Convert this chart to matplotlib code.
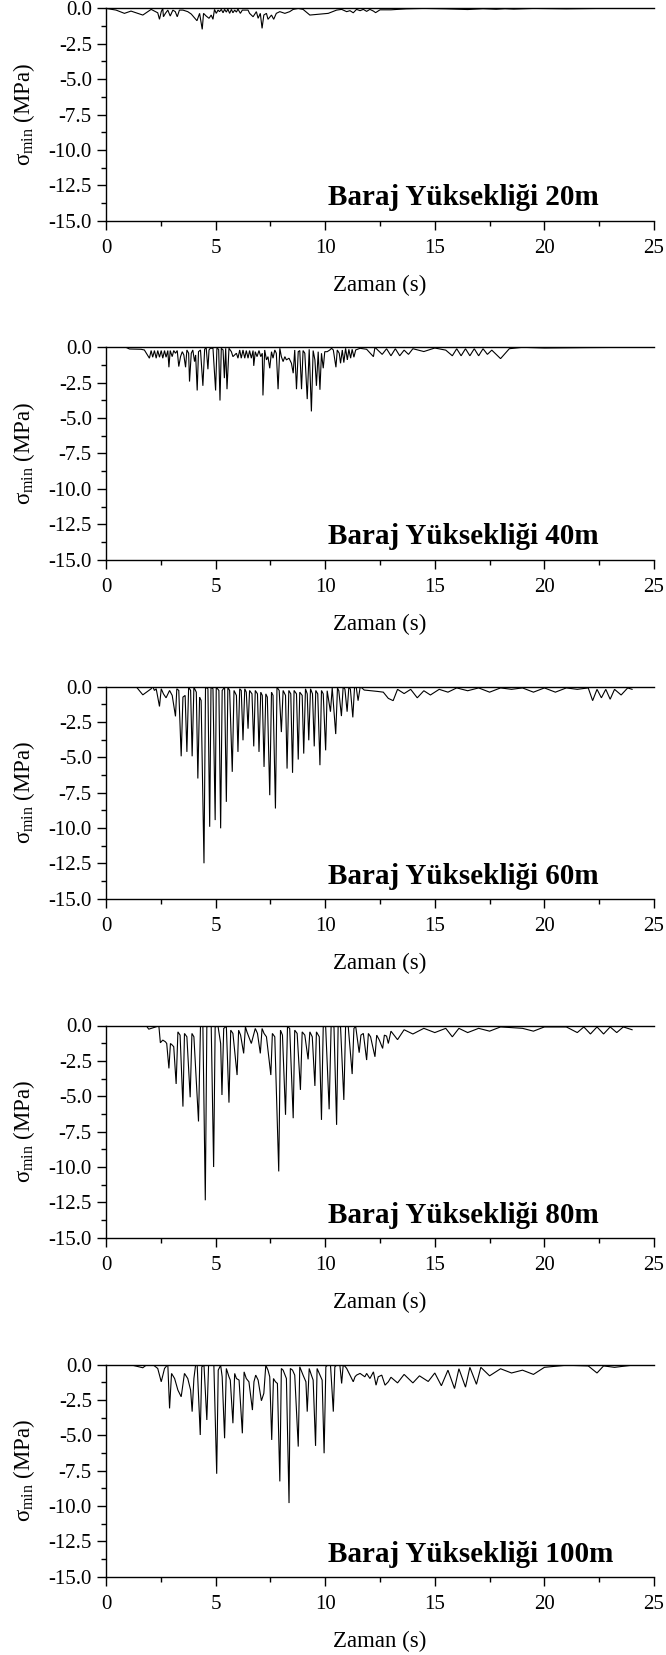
import numpy as np
import matplotlib
matplotlib.use("Agg")
import matplotlib.pyplot as plt
from matplotlib.ticker import MultipleLocator, FormatStrFormatter

plt.rcParams["font.family"] = ["Liberation Serif", "DejaVu Serif"]
plt.rcParams["mathtext.fontset"] = "custom"
plt.rcParams["mathtext.rm"] = "Liberation Serif"
plt.rcParams["mathtext.it"] = "Liberation Serif:italic"
plt.rcParams["axes.unicode_minus"] = False

# Dam heights shown in each panel
heights = ["20m", "40m", "60m", "80m", "100m"]

# Minimum principal stress histories: (time [s], sigma_min [MPa])
h20 = [
    (0.0, 0.0), (0.46, -0.12), (0.84, -0.35), (1.14, -0.19), (1.68, -0.47), (2.06, -0.07),
    (2.36, -0.31), (2.44, -0.77), (2.52, -0.23), (2.59, 0.0), (2.62, -0.59), (2.71, -0.35),
    (2.82, -0.12), (2.93, -0.54), (3.05, -0.12), (3.16, -0.23), (3.25, -0.59), (3.35, -0.12),
    (3.51, -0.12), (3.73, -0.23), (3.89, -0.40), (4.15, -0.87), (4.27, -0.35), (4.39, -1.48),
    (4.45, -0.35), (4.57, -0.54), (4.70, -0.70), (4.80, -0.47), (4.88, -0.77), (4.95, -0.07),
    (5.03, -0.35), (5.11, -0.12), (5.18, -0.23), (5.26, -0.07), (5.34, -0.31), (5.41, -0.07),
    (5.49, -0.26), (5.56, -0.05), (5.64, -0.35), (5.72, -0.07), (5.79, -0.31), (5.87, -0.12),
    (5.95, -0.26), (6.02, -0.05), (6.13, -0.35), (6.22, -0.12), (6.48, -0.12), (6.55, -0.35),
    (6.71, -0.59), (6.86, -0.23), (6.94, -0.70), (7.04, -0.35), (7.12, -1.41), (7.20, -0.47),
    (7.32, -0.35), (7.39, -0.77), (7.55, -0.47), (7.65, -0.77), (7.77, -0.35), (7.93, -0.23),
    (8.16, -0.35), (8.38, -0.23), (8.54, -0.07), (8.77, 0.0), (8.99, -0.07), (9.30, -0.47),
    (10.14, -0.35), (10.52, -0.12), (10.75, -0.07), (10.98, -0.23), (11.13, -0.16),
    (11.28, -0.31), (11.43, -0.07), (11.59, -0.16), (11.74, -0.07), (11.89, -0.21),
    (12.04, -0.07), (12.20, -0.19), (12.30, -0.30), (12.50, -0.10), (13.0, -0.10),
    (13.7, -0.03), (14.5, 0.0), (15.5, -0.03), (16.5, -0.08), (17.2, -0.02), (17.8, -0.06),
    (18.2, -0.02), (18.6, -0.05), (19.5, 0.0), (21.0, -0.03), (22.5, 0.0), (24.0, 0.0),
]

h40 = [
    (0.0, 0.0), (0.91, 0.0), (1.07, -0.12), (1.60, -0.14), (1.75, -0.19), (1.98, -0.77),
    (2.06, -0.23), (2.13, -0.70), (2.21, -0.23), (2.29, -0.77), (2.36, -0.23), (2.44, -0.70),
    (2.52, -0.23), (2.59, -0.77), (2.67, -0.23), (2.74, -0.70), (2.82, -0.23), (2.87, -1.41),
    (2.93, -0.23), (3.02, -0.66), (3.09, -0.23), (3.17, -0.42), (3.25, -0.23), (3.32, -1.36),
    (3.40, -0.66), (3.48, -0.31), (3.55, -0.54), (3.63, -1.41), (3.69, -0.19), (3.77, -0.42),
    (3.81, -2.42), (3.89, -0.42), (3.96, -0.19), (4.04, -1.01), (4.09, -0.54), (4.16, -3.05),
    (4.22, -0.31), (4.31, -0.19), (4.42, -2.72), (4.50, -0.14), (4.57, 0.0), (4.65, -1.55),
    (4.70, -0.19), (4.76, -0.07), (4.88, -0.07), (5.00, -3.05), (5.06, -0.07), (5.14, -0.14),
    (5.20, -3.76), (5.26, -0.07), (5.34, -0.19), (5.40, -2.18), (5.46, -0.07), (5.52, -2.96),
    (5.61, -0.07), (5.72, -0.31), (5.79, -0.66), (5.95, -0.42), (6.02, -0.77), (6.10, -0.19),
    (6.17, -0.77), (6.25, -0.19), (6.33, -0.77), (6.40, -0.23), (6.48, -0.77), (6.55, -0.23),
    (6.63, -0.77), (6.71, -0.23), (6.74, -1.31), (6.81, -0.31), (6.89, -0.66), (6.98, -0.23),
    (7.06, -0.66), (7.13, -0.42), (7.16, -3.40), (7.24, -0.19), (7.32, -0.89), (7.39, -0.66),
    (7.47, -1.48), (7.55, -0.31), (7.62, -0.77), (7.70, -0.19), (7.77, -0.42), (7.85, -2.96),
    (7.93, -0.07), (8.00, -0.66), (8.08, -1.01), (8.16, -0.66), (8.23, -0.89), (8.35, -0.77),
    (8.46, -1.13), (8.54, -1.83), (8.61, -0.19), (8.69, -2.96), (8.77, -0.31), (8.84, -0.23),
    (8.92, -2.96), (8.99, -0.23), (9.07, -0.42), (9.18, -3.66), (9.27, -0.14), (9.37, -4.53),
    (9.45, -0.23), (9.53, -0.89), (9.60, -2.72), (9.68, -0.31), (9.76, -3.00), (9.83, -0.42),
    (9.91, -1.48), (9.98, -0.31), (10.09, -0.31), (10.21, -0.19), (10.29, -0.07),
    (10.37, -0.19), (10.49, -1.41), (10.55, -0.19), (10.64, -0.42), (10.70, -1.13),
    (10.78, -0.19), (10.85, -1.08), (10.93, -0.07), (11.01, -0.89), (11.08, -0.14),
    (11.16, -0.77), (11.23, -0.14), (11.31, -0.70), (11.39, -0.19), (11.59, -0.07),
    (11.89, -0.14), (12.20, -0.66), (12.27, 0.0), (12.6, -0.5), (12.8, -0.1), (13.0, -0.6),
    (13.2, -0.1), (13.4, -0.6), (13.6, -0.2), (13.8, -0.5), (14.0, -0.1), (14.5, -0.3),
    (15.0, -0.05), (15.5, -0.2), (15.8, -0.6), (16.0, -0.1), (16.2, -0.6), (16.4, -0.1),
    (16.6, -0.6), (16.8, -0.1), (17.0, -0.6), (17.2, -0.1), (17.4, -0.5), (17.6, -0.2),
    (18.0, -0.8), (18.4, -0.1), (19.0, 0.0), (20.0, -0.05), (22.0, -0.02), (24.0, 0.0),
]

h60 = [
    (0.0, 0.0), (1.37, 0.0), (1.68, -0.59), (2.06, -0.16), (2.13, 0.0), (2.21, -0.28),
    (2.29, -0.16), (2.44, -1.41), (2.52, -0.16), (2.62, -0.52), (2.74, -0.80), (2.90, -0.28),
    (3.02, -0.63), (3.17, -2.11), (3.23, -0.16), (3.32, -0.28), (3.43, -4.93), (3.51, -0.75),
    (3.61, -0.63), (3.69, -4.62), (3.77, -0.05), (3.86, -0.28), (3.93, -4.93), (4.01, -0.05),
    (4.12, -0.40), (4.19, -6.50), (4.27, -0.75), (4.34, -0.99), (4.47, -12.49), (4.54, -0.05),
    (4.65, -0.16), (4.73, -9.91), (4.79, -0.05), (4.88, -0.16), (4.98, -9.44), (5.03, -0.05),
    (5.15, -0.28), (5.23, -10.02), (5.30, -0.28), (5.41, -0.05), (5.49, -8.15), (5.56, -0.05),
    (5.64, -0.28), (5.76, -6.03), (5.84, -0.28), (5.95, -0.63), (6.02, -4.62), (6.10, -0.16),
    (6.17, -0.28), (6.25, -3.80), (6.33, -0.16), (6.40, -0.40), (6.48, -2.98), (6.55, -0.28),
    (6.66, -0.52), (6.74, -4.23), (6.81, -0.28), (6.91, -0.52), (6.98, -4.62), (7.06, -0.40),
    (7.13, -0.63), (7.21, -5.68), (7.29, -0.52), (7.36, -0.75), (7.47, -7.68), (7.55, -0.40),
    (7.62, -0.63), (7.73, -8.62), (7.80, -0.05), (7.90, -0.28), (8.00, -3.22), (8.08, -0.28),
    (8.19, -0.63), (8.26, -5.80), (8.34, -0.28), (8.43, -0.52), (8.51, -6.10), (8.58, -0.28),
    (8.69, -0.52), (8.77, -5.16), (8.84, -0.40), (8.95, -0.63), (9.02, -4.74), (9.10, -0.16),
    (9.18, -0.52), (9.25, -3.80), (9.33, -0.16), (9.42, -0.52), (9.50, -4.23), (9.57, -0.28),
    (9.66, -0.52), (9.76, -5.56), (9.83, -0.28), (9.91, -0.52), (10.02, -4.51), (10.09, -0.30),
    (10.24, -1.78), (10.32, -0.10), (10.48, -3.36), (10.56, -0.10), (10.62, -0.30),
    (10.74, -2.09), (10.82, 0.0), (10.90, -0.20), (11.00, -1.78), (11.08, 0.0), (11.15, -0.20),
    (11.26, -2.18), (11.34, 0.0), (11.42, -0.10), (11.50, -1.00), (11.60, 0.0), (11.78, -0.25),
    (12.10, -0.30), (12.40, -0.35), (12.65, -0.40), (12.88, -0.84), (13.1, -1.0), (13.3, -0.2),
    (13.6, -0.5), (13.9, -0.2), (14.2, -0.8), (14.5, -0.3), (14.8, -0.6), (15.2, -0.2),
    (15.6, -0.4), (16.0, -0.1), (16.5, -0.3), (17.0, -0.1), (17.5, -0.4), (18.0, -0.1),
    (18.5, -0.2), (19.0, -0.1), (19.5, -0.4), (20.0, -0.1), (20.5, -0.4), (21.0, -0.1),
    (21.5, -0.2), (22.0, -0.1), (22.2, -1.0), (22.4, -0.2), (22.6, -0.8), (22.8, -0.2),
    (23.0, -0.9), (23.2, -0.2), (23.5, -0.6), (23.8, -0.1), (24.0, -0.2),
]

h80 = [
    (0.0, 0.0), (1.83, 0.0), (1.95, -0.26), (2.29, -0.09), (2.41, 0.0), (2.48, -1.22),
    (2.59, -1.03), (2.71, -1.15), (2.77, -1.27), (2.87, -3.03), (2.94, -1.27), (3.02, -1.38),
    (3.09, -1.50), (3.20, -4.13), (3.28, -0.45), (3.38, -0.68), (3.51, -5.73), (3.58, -0.56),
    (3.69, -0.80), (3.84, -5.07), (3.92, -0.56), (4.01, -0.80), (4.22, -6.78), (4.31, -0.05),
    (4.42, -0.05), (4.53, -12.35), (4.60, -0.09), (4.68, -0.05), (4.80, -0.05), (4.91, -10.0),
    (4.98, -0.09), (5.11, -0.05), (5.23, -1.27), (5.29, -4.91), (5.37, -0.21), (5.49, -0.05),
    (5.61, -5.45), (5.69, -0.33), (5.79, -0.56), (5.98, -3.50), (6.05, -0.33), (6.14, -0.68),
    (6.28, -1.97), (6.36, -0.09), (6.43, -0.45), (6.63, -1.27), (6.71, -0.80), (6.81, -0.21),
    (6.91, -0.56), (7.04, -1.97), (7.12, -0.21), (7.21, -0.56), (7.32, -0.80), (7.52, -3.50),
    (7.59, -0.56), (7.70, -0.80), (7.88, -10.31), (7.96, -0.33), (8.05, -0.68), (8.19, -6.31),
    (8.28, -0.05), (8.38, -0.21), (8.54, -6.55), (8.61, -0.33), (8.72, -0.56), (8.87, -4.55),
    (8.95, -0.45), (9.07, -0.68), (9.22, -2.39), (9.30, -0.45), (9.41, -0.80), (9.53, -4.27),
    (9.60, -0.45), (9.73, -0.80), (9.83, -6.67), (9.91, -0.09), (10.02, -0.05), (10.18, -5.92),
    (10.27, -0.05), (10.40, -0.09), (10.52, -7.02), (10.59, -0.05), (10.70, -0.09),
    (10.85, -5.26), (10.93, -0.05), (11.05, -0.05), (11.23, -3.43), (11.31, -0.21),
    (11.39, -0.05), (11.55, -1.92), (11.63, -0.68), (11.74, -0.56), (11.89, -2.44),
    (11.97, -0.56), (12.07, -0.80), (12.27, -2.21), (12.35, -0.68), (12.47, -1.03),
    (12.62, -1.62), (12.70, -0.68), (12.80, -0.75), (12.88, -1.27), (13.0, -0.4), (13.3, -1.0),
    (13.6, -0.3), (14.0, -0.6), (14.5, -0.2), (15.0, -0.5), (15.5, -0.2), (15.8, -0.8),
    (16.1, -0.2), (16.5, -0.5), (17.0, -0.2), (17.5, -0.4), (18.0, -0.1), (19.0, -0.2),
    (19.5, -0.4), (20.0, -0.1), (21.0, -0.1), (21.5, -0.5), (21.8, -0.1), (22.1, -0.6),
    (22.4, -0.1), (22.7, -0.6), (23.0, -0.1), (23.3, -0.5), (23.6, -0.1), (24.0, -0.3),
]

h100 = [
    (0.0, 0.0), (1.07, 0.0), (1.68, -0.23), (1.83, -0.05), (2.13, 0.0), (2.36, -0.28),
    (2.52, -1.22), (2.67, -0.28), (2.82, 0.0), (2.90, -3.10), (2.99, -0.63), (3.13, -0.99),
    (3.28, -1.81), (3.43, -2.28), (3.58, -0.63), (3.73, -0.99), (3.86, -1.81), (3.93, -3.33),
    (4.01, -0.99), (4.09, 0.0), (4.16, -0.05), (4.30, -4.98), (4.37, -0.16), (4.47, -0.05),
    (4.60, -3.92), (4.68, -0.05), (4.76, 0.0), (4.92, 0.0), (5.05, -7.72), (5.12, -0.40),
    (5.23, -0.05), (5.30, -0.87), (5.41, -5.21), (5.49, -0.28), (5.61, -0.87), (5.67, -1.10),
    (5.79, -4.15), (5.87, -0.63), (5.95, -0.99), (6.07, -1.10), (6.22, -4.86), (6.30, -0.52),
    (6.40, -0.99), (6.52, -1.22), (6.68, -3.22), (6.75, -1.22), (6.83, -0.75), (6.94, -1.10),
    (7.09, -2.56), (7.20, -2.04), (7.29, -0.05), (7.39, -0.40), (7.47, -0.87), (7.56, -5.33),
    (7.64, -0.99), (7.73, -1.22), (7.82, -1.34), (7.93, -8.26), (8.00, -0.28), (8.08, -0.40),
    (8.23, -0.99), (8.35, -9.79), (8.41, -0.28), (8.51, -0.40), (8.61, -0.75), (8.77, -5.80),
    (8.84, -0.16), (8.99, -0.75), (9.12, -1.22), (9.18, -3.33), (9.27, -0.28), (9.37, -0.75),
    (9.45, -1.10), (9.56, -5.75), (9.63, -0.28), (9.76, -0.75), (9.86, -1.10), (9.95, -6.27),
    (10.03, -0.16), (10.14, 0.0), (10.24, 0.0), (10.37, -3.33), (10.44, -0.16), (10.52, -0.05),
    (10.67, -0.05), (10.75, -1.34), (10.82, -0.05), (10.90, -0.12), (10.98, -0.28),
    (11.13, -0.75), (11.28, -1.22), (11.36, -0.87), (11.43, -0.75), (11.59, -0.63),
    (11.81, -0.87), (11.89, -0.63), (12.04, -0.99), (12.20, -0.52), (12.32, -1.46),
    (12.42, -0.87), (12.58, -0.75), (12.73, -1.46), (12.88, -1.22), (13.0, -0.9), (13.3, -1.3),
    (13.6, -0.7), (14.0, -1.3), (14.3, -0.8), (14.7, -1.2), (15.0, -0.6), (15.3, -1.5),
    (15.6, -0.4), (15.9, -1.7), (16.1, -0.3), (16.4, -1.6), (16.6, -0.2), (16.9, -1.4),
    (17.1, -0.2), (17.5, -0.8), (18.0, -0.3), (18.5, -0.6), (19.0, -0.4), (19.5, -0.7),
    (20.0, -0.2), (21.0, -0.05), (22.0, -0.1), (22.4, -0.6), (22.7, -0.1), (23.2, -0.2),
    (24.0, -0.05),
]

series = [h20, h40, h60, h80, h100]

# Figure geometry (pixels at 100 dpi)
W, H = 666, 1655
ax_left, ax_width, ax_height = 106, 548, 212.3
ax_tops = [8.4, 347.3, 686.5, 1025.5, 1364.5]

fig = plt.figure(figsize=(W / 100, H / 100), dpi=100)

for top, label, data in zip(ax_tops, heights, series):
    ax = fig.add_axes([ax_left / W, 1 - (top + ax_height) / H, ax_width / W, ax_height / H])
    t, s = np.array(data).T
    ax.plot(t, s, color="black", lw=0.8, solid_joinstyle="miter")

    ax.set_xlim(0, 25)
    ax.set_ylim(-15, 0)
    ax.spines["right"].set_visible(False)
    for sp in ("left", "bottom", "top"):
        ax.spines[sp].set_linewidth(1.0)

    ax.xaxis.set_major_locator(MultipleLocator(5))
    ax.xaxis.set_minor_locator(MultipleLocator(2.5))
    ax.yaxis.set_major_locator(MultipleLocator(2.5))
    ax.yaxis.set_minor_locator(MultipleLocator(1.25))
    ax.yaxis.set_major_formatter(FormatStrFormatter("%.1f"))
    ax.xaxis.set_major_formatter(FormatStrFormatter("%d"))

    ax.tick_params(which="both", direction="out", top=False, right=False, width=1.0,
                   labelsize=15, colors="black")
    ax.tick_params(which="major", length=6.2)
    ax.tick_params(axis="x", which="major", pad=7)
    ax.tick_params(axis="y", which="major", pad=4)
    ax.tick_params(which="minor", length=3.6)

    ax.set_xlabel("Zaman (s)", fontsize=16.5, labelpad=12)
    ax.set_ylabel(r"$\mathrm{σ}_{\mathrm{min}}$ (MPa)", fontsize=16.5, labelpad=8)

    ax.text(0.405, 0.072, f"Baraj Yüksekliği {label}", transform=ax.transAxes,
            ha="left", va="baseline", fontsize=21, fontweight="bold")

fig.savefig("out.png", dpi=100)
